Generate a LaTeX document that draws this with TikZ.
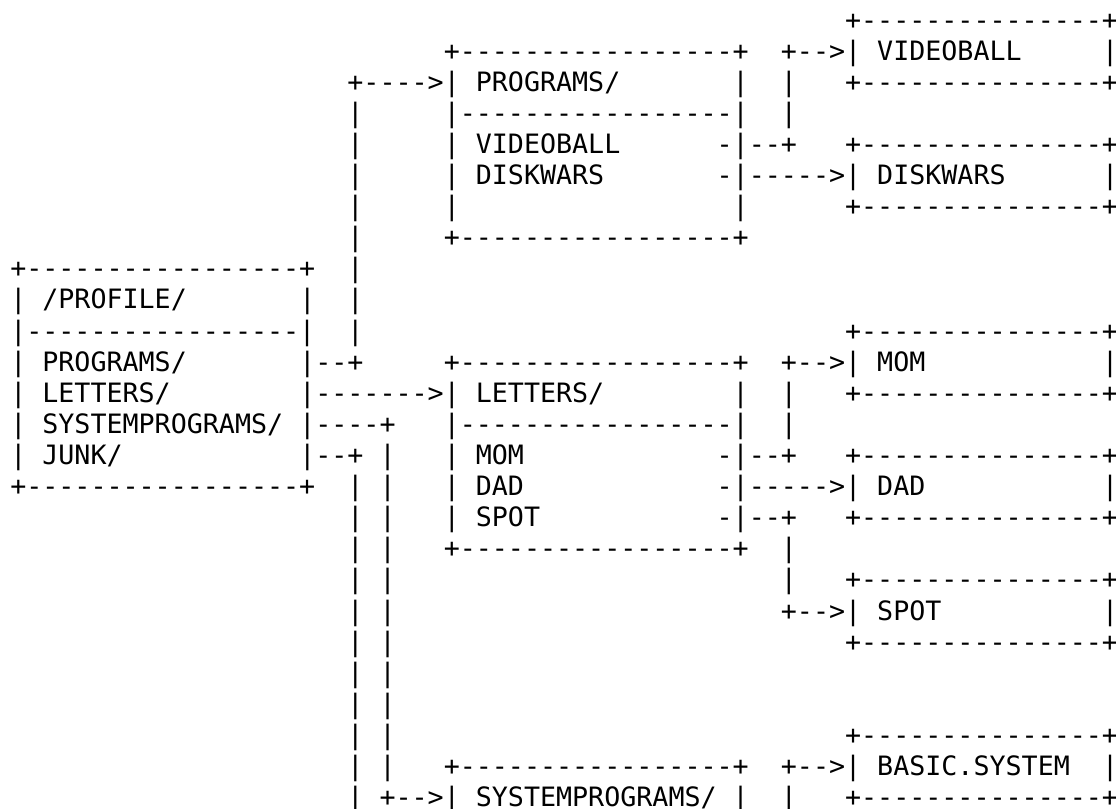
\documentclass[tikz,border=0pt]{standalone}
\usepackage{fontspec}
\usepackage{tikz}
\newfontfamily\dirmono{DejaVu Sans Mono}

\tikzset{ascii/.style={anchor=base west,inner sep=0pt,outer sep=0pt,font={\dirmono\fontsize{20}{23.33}\selectfont}}}

\newcommand\dirtop[4]{%
  \node[ascii] (#1-top) at (#2,#3) {+-----------------+};
  \node[ascii] (#1-l) at (#2,#3+1) {|};
  \node[ascii] (#1) at (#2+2,#3+1) {#4};
  \node[ascii] (#1-r) at (#2+18,#3+1) {|};
}
\newcommand\dirbody[5]{%
  \node[ascii] (#1-hr) at (#2,#3) {|-----------------|};
  \foreach \e [count=\i] in {#5} {
    \node[ascii] (#1-l\i) at (#2,#3+\i) {|};
    \node[ascii] (#1-e\i) at (#2+2,#3+\i) {\e};
    \node[ascii] (#1-r\i) at (#2+18,#3+\i) {|};
  }
  \node[ascii] (#1-bottom) at (#2,#4) {+-----------------+};
}
\newcommand\filebox[4]{%
  \node[ascii] (#1-top) at (#2,#3-1) {+---------------+};
  \node[ascii] (#1-l) at (#2,#3) {|};
  \node[ascii] (#1) at (#2+2,#3) {#4};
  \node[ascii] (#1-r) at (#2+16,#3) {|};
  \node[ascii] (#1-bottom) at (#2,#3+1) {+---------------+};
}
\newcommand\filelink[4]{%
  \node[ascii] (#1-mark) at (44,#2) {-};
  \node[ascii] (#1-out) at (46,#2) {--+};
  \foreach \r in {#4} \node[ascii] (#1-bar\r) at (48,\r) {|};
  \node[ascii] (#1-in) at (48,#3) {+-->};
}
\newcommand\fileline[2]{%
  \node[ascii] (#1-mark) at (44,#2) {-};
  \node[ascii] (#1-out) at (46,#2) {----->};
}

\begin{document}
\begin{tikzpicture}[x=12.041pt,y=-23.33pt]
\useasboundingbox (-7.7pt,21.75pt) rectangle (829.3pt,-584.25pt);

\dirtop{profile}{0}{8}{/PROFILE/}
\dirbody{profile}{0}{10}{15}{PROGRAMS/,LETTERS/,SYSTEMPROGRAMS/,JUNK/}

\dirtop{programs}{27}{1}{PROGRAMS/}
\dirbody{programs}{27}{3}{7}{VIDEOBALL,DISKWARS,{}}

\dirtop{letters}{27}{11}{LETTERS/}
\dirbody{letters}{27}{13}{17}{MOM,DAD,SPOT}

\dirtop{sysprog}{27}{24}{SYSTEMPROGRAMS/}

\filebox{videoball}{52}{1}{VIDEOBALL}
\filebox{diskwars}{52}{5}{DISKWARS}
\filebox{mom}{52}{11}{MOM}
\filebox{dad}{52}{15}{DAD}
\filebox{spot}{52}{19}{SPOT}
\filebox{basic}{52}{24}{BASIC.SYSTEM}

\node[ascii] (programs-out) at (19,11) {--+};
\foreach \r in {3,...,10} \node[ascii] (programs-bar\r) at (21,\r) {|};
\node[ascii] (programs-in) at (21,2) {+---->};
\node[ascii] (letters-out) at (19,12) {------->};
\node[ascii] (sysprog-out) at (19,13) {----+};
\foreach \r in {14,...,24} \node[ascii] (sysprog-bar\r) at (23,\r) {|};
\node[ascii] (sysprog-in) at (23,25) {+-->};
\node[ascii] (junk-out) at (19,14) {--+};
\foreach \r in {15,...,25} \node[ascii] (junk-bar\r) at (21,\r) {|};

\filelink{videoball}{4}{1}{2,3}
\fileline{diskwars}{5}
\filelink{mom}{14}{11}{12,13}
\fileline{dad}{15}
\filelink{spot}{16}{19}{17,18}
\node[ascii] (basic-in) at (48,24) {+-->};
\node[ascii] (basic-bar25) at (48,25) {|};
\end{tikzpicture}
\end{document}
